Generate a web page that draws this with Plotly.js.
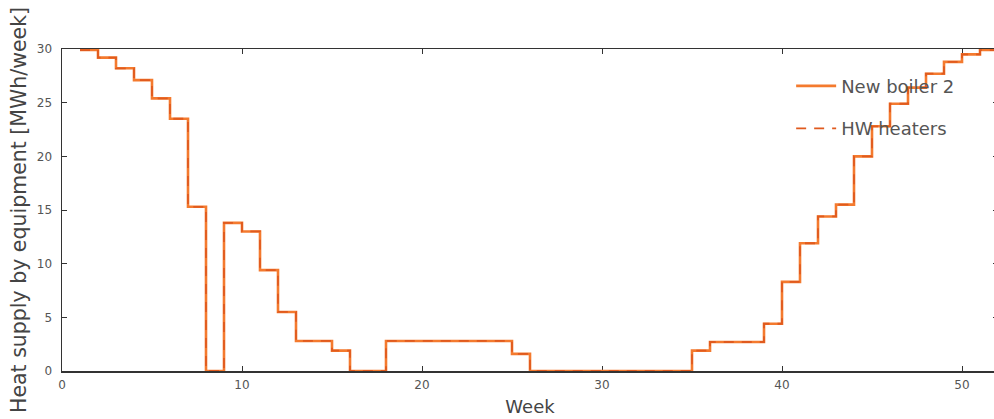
<!DOCTYPE html>
<html>
<head>
<meta charset="utf-8">
<script src="https://cdn.plot.ly/plotly-3.0.1.min.js"></script>
<style>
html, body { margin: 0; padding: 0; overflow: hidden; background: #fff; }
#chart { width: 998px; height: 419px; }
</style>
</head>
<body>
<div id="chart"></div>
<script>
// Week index (step 'post': value holds from week i to week i+1)
const weeks = [1,2,3,4,5,6,7,8,9,10,11,12,13,14,15,16,17,18,19,20,21,22,23,24,25,26,
               27,28,29,30,31,32,33,34,35,36,37,38,39,40,41,42,43,44,45,46,47,48,49,50,51,52];
const newBoiler2 = [29.9,29.2,28.2,27.1,25.4,23.5,15.3,0,13.8,13.0,9.4,5.5,2.8,2.8,1.9,0,0,2.8,2.8,2.8,2.8,2.8,2.8,2.8,1.6,0,
                    0,0,0,0,0,0,0,0,1.9,2.7,2.7,2.7,4.4,8.3,11.9,14.4,15.5,20.0,22.8,24.9,26.4,27.7,28.8,29.5,29.9,29.9];
const hwHeaters = [29.9,29.2,28.2,27.1,25.4,23.5,15.3,0,13.8,13.0,9.4,5.5,2.8,2.8,1.9,0,0,2.8,2.8,2.8,2.8,2.8,2.8,2.8,1.6,0,
                   0,0,0,0,0,0,0,0,1.9,2.7,2.7,2.7,4.4,8.3,11.9,14.4,15.5,20.0,22.8,24.9,26.4,27.7,28.8,29.5,29.9,29.9];
const seriesNames = ['New boiler 2', 'HW heaters'];
const xTicks = [0,10,20,30,40,50];
const yTicks = [0,5,10,15,20,25,30];

const traces = [
  {
    x: weeks, y: newBoiler2, name: seriesNames[0], type: 'scatter', mode: 'lines',
    line: {shape: 'hv', color: '#f47a2e', width: 2.6},
    legendgroup: 'a'
  },
  {
    x: weeks, y: hwHeaters, name: seriesNames[1], type: 'scatter', mode: 'lines',
    line: {shape: 'hv', color: '#e05a1e', width: 1.8, dash: '10px,8px'},
    legendgroup: 'b'
  }
];

const axisCommon = {
  showline: true, linecolor: '#333', linewidth: 1.5,
  ticks: 'inside', ticklen: 5, tickcolor: '#333', tickwidth: 1,
  showgrid: false, zeroline: false, mirror: 'ticks',
  tickfont: {family: 'DejaVu Sans', size: 12, color: '#555'},
  layer: 'below traces'
};

const layout = {
  width: 998, height: 419,
  margin: {l: 62, r: 0, t: 49, b: 48},
  paper_bgcolor: '#fff', plot_bgcolor: '#fff',
  font: {family: 'DejaVu Sans', color: '#444'},
  showlegend: true,
  legend: {
    x: 0.779, y: 0.942, xanchor: 'left', yanchor: 'top',
    bgcolor: 'rgba(0,0,0,0)', borderwidth: 0,
    font: {family: 'DejaVu Sans', size: 18, color: '#555'},
    tracegroupgap: 16, traceorder: 'grouped', itemwidth: 40
  },
  xaxis: Object.assign({}, axisCommon, {
    range: [0, 52], tickvals: xTicks, ticktext: xTicks.map(String),
    ticklabelstandoff: 2,
    title: {text: 'Week', font: {family: 'DejaVu Sans', size: 18, color: '#444'}, standoff: 9}
  }),
  yaxis: Object.assign({}, axisCommon, {
    range: [0, 30], tickvals: yTicks, ticktext: yTicks.map(String),
    ticklabelstandoff: 6,
    title: {text: 'Heat supply by equipment [MWh/week]', font: {family: 'DejaVu Sans', size: 20.5, color: '#444'}, standoff: 4}
  })
};

Plotly.newPlot('chart', traces, layout, {staticPlot: true, displayModeBar: false});
</script>
</body>
</html>
